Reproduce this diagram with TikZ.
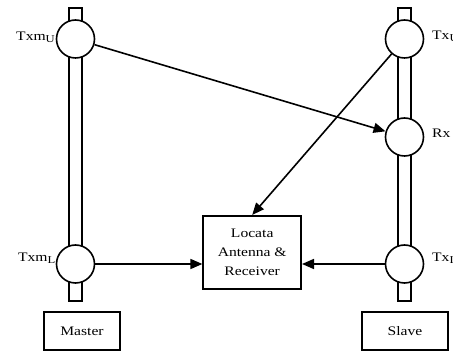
\documentclass[tikz,border=0pt]{standalone}
\usepackage{fontspec}
\setmainfont{Liberation Serif}[FakeStretch=1.2]
\usetikzlibrary{arrows.meta}
\tikzset{
  pole/.style={draw, line width=1.6pt, fill=white},
  ant/.style={circle, draw, line width=1.6pt, fill=white, minimum size=38pt, inner sep=0pt},
  box/.style={draw, line width=1.6pt, fill=white, inner sep=0pt, align=center},
  lbl/.style={inner sep=0pt, font=\fontsize{13}{15}\selectfont},
  sig/.style={line width=1.6pt, -{Triangle[length=12pt,width=10pt]}},
}
\newcommand{\sbx}[1]{\raisebox{-2pt}{\fontsize{10.5}{12}\selectfont #1}}
\begin{document}
\begin{tikzpicture}[x=1pt,y=-1pt]
\useasboundingbox (0,0) rectangle (453,352);
% poles
\draw[pole] (69,8) rectangle (82,301);
\draw[pole] (398,8) rectangle (411,301);
% antennas
\node[ant] (mu) at (75.5,39) {};
\node[ant] (ml) at (75.5,264) {};
\node[ant] (su) at (404.5,39) {};
\node[ant] (rx) at (404.5,137) {};
\node[ant] (sl) at (404.5,264) {};
% labels
\node[lbl, anchor=base east] at (55,40.5) {Txm\sbx{U}};
\node[lbl, anchor=base east] at (55.5,262) {Txm\sbx{L}};
\node[lbl, anchor=base west] at (432,39.5) {Tx\sbx{U}};
\node[lbl, anchor=base west] at (432,138) {Rx};
\node[lbl, anchor=base west] at (432,262) {Tx\sbx{L}};
% receiver box
\node[box, minimum width=98pt, minimum height=73.5pt, font=\fontsize{13}{18.7}\selectfont] (rcv) at (252.2,252.5) {Locata\\Antenna \&\\Receiver};
% master / slave
\node[box, minimum width=76pt, minimum height=38pt, font=\fontsize{13}{15}\selectfont] (master) at (82,331) {Master};
\node[box, minimum width=86pt, minimum height=38pt, font=\fontsize{13}{15}\selectfont] (slave) at (405,331) {Slave};
% signals
\draw[sig] (mu) -- (rx);
\draw[sig] (su) -- (rcv.north);
\draw[sig] (ml) -- (rcv.west |- ml);
\draw[sig] (sl) -- (rcv.east |- sl);
\end{tikzpicture}
\end{document}
